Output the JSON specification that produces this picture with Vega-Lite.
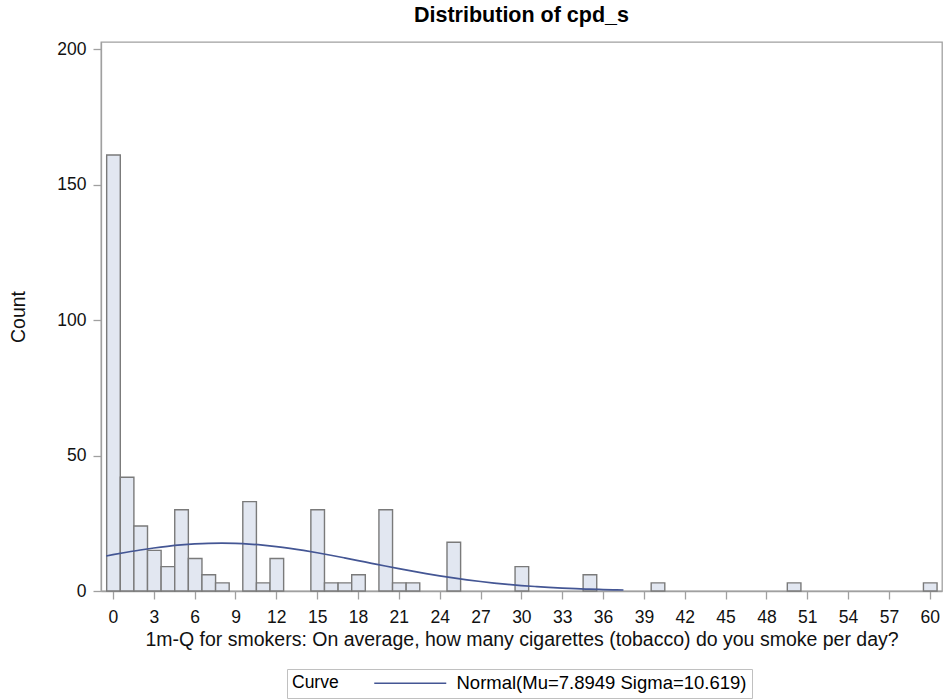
{
  "$schema": "https://vega.github.io/schema/vega-lite/v6.json",
  "width": 841,
  "height": 549,
  "autosize": {"type": "none"},
  "padding": {"left": 101, "top": 42, "right": 1, "bottom": 109},
  "background": "white",
  "title": {
    "text": "Distribution of cpd_s",
    "font": "Liberation Sans",
    "fontSize": 21.5,
    "fontWeight": "bold",
    "color": "#000",
    "anchor": "middle",
    "frame": "group",
    "offset": 14
  },
  "config": {
    "font": "Liberation Sans",
    "view": {"stroke": "#a0a0a0", "strokeWidth": 1.3},
    "axis": {
      "grid": false,
      "domainColor": "#a0a0a0",
      "domainWidth": 1.3,
      "tickColor": "#a0a0a0",
      "tickWidth": 1.3,
      "tickSize": 8,
      "labelFont": "Liberation Sans",
      "labelFontSize": 17.5,
      "labelColor": "#111",
      "titleFont": "Liberation Sans",
      "titleFontSize": 19.5,
      "titleFontWeight": "normal",
      "titleColor": "#111"
    }
  },
  "datasets": {
    "bars": [
      {"value": 0, "count": 161},
      {"value": 1, "count": 42},
      {"value": 2, "count": 24},
      {"value": 3, "count": 15},
      {"value": 4, "count": 9},
      {"value": 5, "count": 30},
      {"value": 6, "count": 12},
      {"value": 7, "count": 6},
      {"value": 8, "count": 3},
      {"value": 10, "count": 33},
      {"value": 11, "count": 3},
      {"value": 12, "count": 12},
      {"value": 15, "count": 30},
      {"value": 16, "count": 3},
      {"value": 17, "count": 3},
      {"value": 18, "count": 6},
      {"value": 20, "count": 30},
      {"value": 21, "count": 3},
      {"value": 22, "count": 3},
      {"value": 25, "count": 18},
      {"value": 30, "count": 9},
      {"value": 35, "count": 6},
      {"value": 40, "count": 3},
      {"value": 50, "count": 3},
      {"value": 60, "count": 3}
    ],
    "curve": [
      {"cx": -0.5, "cy": 12.92},
      {"cx": 0, "cy": 13.40},
      {"cx": 1, "cy": 14.30},
      {"cx": 2, "cy": 15.14},
      {"cx": 3, "cy": 15.88},
      {"cx": 4, "cy": 16.51},
      {"cx": 5, "cy": 17.02},
      {"cx": 6, "cy": 17.38},
      {"cx": 7, "cy": 17.60},
      {"cx": 8, "cy": 17.66},
      {"cx": 9, "cy": 17.56},
      {"cx": 10, "cy": 17.32},
      {"cx": 11, "cy": 16.92},
      {"cx": 12, "cy": 16.39},
      {"cx": 13, "cy": 15.73},
      {"cx": 14, "cy": 14.97},
      {"cx": 15, "cy": 14.12},
      {"cx": 16, "cy": 13.20},
      {"cx": 17, "cy": 12.23},
      {"cx": 18, "cy": 11.23},
      {"cx": 19, "cy": 10.22},
      {"cx": 20, "cy": 9.22},
      {"cx": 21, "cy": 8.25},
      {"cx": 22, "cy": 7.31},
      {"cx": 23, "cy": 6.42},
      {"cx": 24, "cy": 5.59},
      {"cx": 25, "cy": 4.83},
      {"cx": 26, "cy": 4.13},
      {"cx": 27, "cy": 3.50},
      {"cx": 28, "cy": 2.94},
      {"cx": 29, "cy": 2.45},
      {"cx": 30, "cy": 2.02},
      {"cx": 31, "cy": 1.66},
      {"cx": 32, "cy": 1.34},
      {"cx": 33, "cy": 1.08},
      {"cx": 34, "cy": 0.86},
      {"cx": 35, "cy": 0.68},
      {"cx": 36, "cy": 0.53},
      {"cx": 37, "cy": 0.41},
      {"cx": 37.5, "cy": 0.36}
    ]
  },
  "layer": [
    {
      "data": {"name": "bars"},
      "mark": {"type": "bar", "fill": "#E2E7F1", "stroke": "#7a7a7a", "strokeWidth": 1.4, "binSpacing": 0},
      "encoding": {
        "x": {
          "field": "value",
          "type": "quantitative",
          "bin": {"step": 1, "extent": [-0.5, 60.5], "nice": false},
          "scale": {"domain": [-0.88, 60.9], "nice": false, "zero": false},
          "axis": {
            "title": "1m-Q for smokers: On average, how many cigarettes (tobacco) do you smoke per day?",
            "values": [0, 3, 6, 9, 12, 15, 18, 21, 24, 27, 30, 33, 36, 39, 42, 45, 48, 51, 54, 57, 60],
            "format": "d",
            "labelPadding": 9,
            "titlePadding": 5
          }
        },
        "y": {
          "aggregate": "sum",
          "field": "count",
          "type": "quantitative",
          "scale": {"domain": [0, 202.7], "nice": false},
          "axis": {
            "title": "Count",
            "values": [0, 50, 100, 150, 200],
            "labelPadding": 7,
            "titleX": -82.5,
            "titleY": 274.5,
            "titleAngle": 270,
            "titleAlign": "center",
            "titleBaseline": "middle"
          }
        }
      }
    },
    {
      "data": {"name": "curve"},
      "mark": {"type": "line", "strokeWidth": 1.7, "interpolate": "monotone"},
      "encoding": {
        "x": {"field": "cx", "type": "quantitative", "scale": {"domain": [-0.88, 60.9], "nice": false, "zero": false}},
        "y": {"field": "cy", "type": "quantitative"},
        "stroke": {
          "datum": "Normal(Mu=7.8949 Sigma=10.619)",
          "type": "nominal",
          "scale": {"range": ["#445694"]},
          "legend": {
            "title": "Curve",
            "orient": "none",
            "legendX": 186,
            "legendY": 627,
            "direction": "horizontal",
            "titleOrient": "left",
            "titleAnchor": "middle",
            "titleBaseline": "middle",
            "titleFontWeight": "normal",
            "titleFontSize": 17.5,
            "titleColor": "#000",
            "titleFont": "Liberation Sans",
            "titlePadding": 62,
            "labelFont": "Liberation Sans",
            "labelFontSize": 18.5,
            "labelColor": "#000",
            "labelOffset": 37,
            "labelLimit": 400,
            "symbolType": "M-6,0H6",
            "symbolSize": 144,
            "symbolStrokeWidth": 1.4,
            "symbolFillColor": "transparent",
            "strokeColor": "#c0c0c0",
            "fillColor": "white",
            "padding": 5
          }
        }
      }
    }
  ]
}
